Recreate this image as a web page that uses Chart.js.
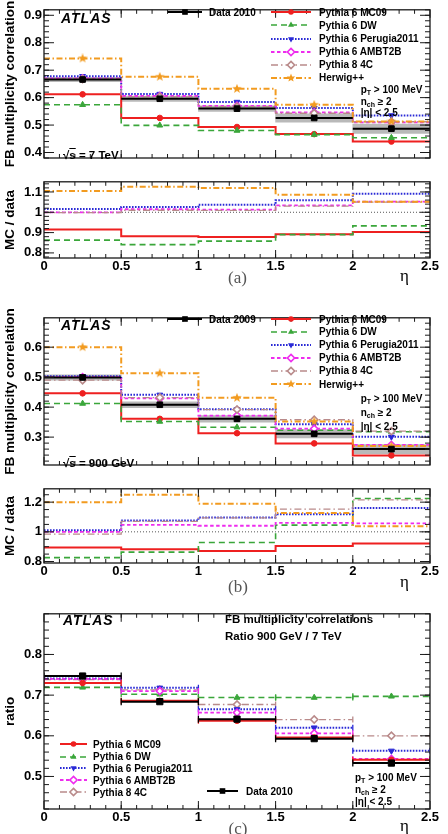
<!DOCTYPE html>
<html>
<head>
<meta charset="utf-8">
<script src="https://cdn.jsdelivr.net/npm/chart.js@4.4.1/dist/chart.umd.min.js"></script>
<style>
  body { margin: 0; background: #fff; }
  #page { position: relative; width: 448px; height: 834px; overflow: hidden; background: #fff;
          font-family: "Liberation Sans", Arial, Helvetica, sans-serif; }
  canvas { position: absolute; left: 0; }
  .t { position: absolute; white-space: nowrap; font-weight: bold; font-size: 10px; line-height: 12px;
       color: #000; transform: translateY(-50%); }
  .t sub { font-size: 7px; vertical-align: -2px; line-height: 0; }
  .atlas { font-size: 14px; font-style: italic; letter-spacing: 1px; }
  .big { font-size: 11.5px; }
  .cap { font-family: "Liberation Serif", "DejaVu Serif", serif; font-weight: normal; font-size: 17px; color: #555;
         transform: translate(-50%, -50%); }
  .eta { font-family: "Liberation Serif", "DejaVu Serif", serif; font-weight: normal; font-size: 17px; }
  .leg { position: absolute; display: flex; align-items: center; transform: translateY(-50%);
         font-weight: bold; font-size: 10px; white-space: nowrap; }
  .leg svg { display: block; overflow: visible; }
</style>
</head>
<body>
<div id="page">
  <canvas id="cA" width="448" height="177" style="top:0px"></canvas>
  <canvas id="cAr" width="448" height="104" style="top:172px"></canvas>
  <canvas id="cB" width="448" height="176" style="top:308px"></canvas>
  <canvas id="cBr" width="448" height="102" style="top:479px"></canvas>
  <canvas id="cC" width="448" height="223" style="top:604px"></canvas>
</div>
<script>
// eta bins
const etaEdges = [0, 0.5, 1, 1.5, 2, 2.5];
const etaCenters = [0.25, 0.75, 1.25, 1.75, 2.25];
const etaTicks = [0, 0.5, 1, 1.5, 2, 2.5];

// (a) sqrt(s) = 7 TeV
const data7 = [0.666, 0.596, 0.560, 0.526, 0.487];
const sys7 = [0.008, 0.010, 0.010, 0.015, 0.017];
const mc09_7 = [0.612, 0.526, 0.493, 0.467, 0.440];
const dw_7 = [0.574, 0.499, 0.480, 0.465, 0.454];
const perugia_7 = [0.678, 0.613, 0.584, 0.562, 0.535];
const ambt2b_7 = [0.670, 0.606, 0.570, 0.546, 0.510];
const py8_7 = [0.668, 0.603, 0.567, 0.543, 0.512];
const herwig_7 = [0.743, 0.676, 0.632, 0.574, 0.513];
// (a) MC / data
const rMc09_7 = [0.915, 0.882, 0.878, 0.892, 0.903];
const rDw_7 = [0.863, 0.841, 0.858, 0.890, 0.933];
const rPerugia_7 = [1.016, 1.026, 1.037, 1.059, 1.091];
const rAmbt2b_7 = [1.000, 1.015, 1.013, 1.034, 1.052];
const rPy8_7 = [0.998, 1.010, 1.009, 1.030, 1.050];
const rHerwig_7 = [1.105, 1.126, 1.119, 1.086, 1.052];

// (b) sqrt(s) = 900 GeV
const data9 = [0.499, 0.408, 0.361, 0.311, 0.260];
const sys9 = [0.009, 0.010, 0.011, 0.014, 0.015];
const mc09_9 = [0.446, 0.361, 0.313, 0.279, 0.239];
const dw_9 = [0.412, 0.352, 0.333, 0.323, 0.318];
const perugia_9 = [0.503, 0.441, 0.393, 0.343, 0.301];
const ambt2b_9 = [0.500, 0.429, 0.372, 0.328, 0.274];
const py8_9 = [0.490, 0.432, 0.392, 0.358, 0.320];
const herwig_9 = [0.600, 0.513, 0.431, 0.352, 0.270];
// (b) MC / data
const rMc09_9 = [0.894, 0.882, 0.871, 0.904, 0.922];
const rDw_9 = [0.826, 0.863, 0.928, 1.045, 1.225];
const rPerugia_9 = [1.010, 1.076, 1.096, 1.118, 1.160];
const rAmbt2b_9 = [1.000, 1.047, 1.041, 1.061, 1.057];
const rPy8_9 = [0.984, 1.070, 1.094, 1.153, 1.215];
const rHerwig_9 = [1.200, 1.250, 1.190, 1.127, 1.037];

// (c) ratio 900 GeV / 7 TeV
const cData = [0.747, 0.684, 0.641, 0.593, 0.533];
const cMc09 = [0.730, 0.686, 0.637, 0.596, 0.541];
const cDw = [0.719, 0.702, 0.694, 0.694, 0.697];
const cPerugia = [0.741, 0.718, 0.665, 0.620, 0.563];
const cAmbt2b = [0.740, 0.710, 0.657, 0.606, 0.543];
const cPy8 = [0.738, 0.713, 0.677, 0.640, 0.600];

const unity = 1;

// axis ticks
const yTicksA = [0.4, 0.5, 0.6, 0.7, 0.8, 0.9];
const yTicksAr = [0.8, 0.9, 1, 1.1];
const yTicksB = [0.3, 0.4, 0.5, 0.6];
const yTicksBr = [0.8, 1, 1.2];
const yTicksC = [0.5, 0.6, 0.7, 0.8];

Chart.defaults.font.family = '"Liberation Sans", Arial, Helvetica, sans-serif';
Chart.defaults.color = '#000';

function starCanvas(color, size) {
  const c = document.createElement('canvas');
  c.width = c.height = size;
  const g = c.getContext('2d');
  g.fillStyle = color;
  g.beginPath();
  for (let i = 0; i < 10; i++) {
    const rr = i % 2 ? size * 0.21 : size * 0.5;
    const ang = -Math.PI / 2 + i * Math.PI / 5;
    g.lineTo(size / 2 + rr * Math.cos(ang), size / 2 + rr * Math.sin(ang));
  }
  g.closePath();
  g.fill();
  return c;
}

const styles = {
  mc09:    {color: '#ee2020', dash: [], width: 2, shape: 'circle', r: 2.8},
  dw:      {color: '#3aa63a', dash: [6, 4], width: 1.6, shape: 'triUp', r: 3.4},
  perugia: {color: '#2a2ad6', dash: [1.6, 1.4], width: 2, shape: 'triDown', r: 3.4},
  ambt2b:  {color: '#ee2cee', dash: [3.5, 2.5], width: 1.8, shape: 'diamond', r: 3.6, open: true},
  py8:     {color: '#b98a8a', dash: [7, 3, 1.5, 3], width: 1.3, shape: 'diamond', r: 3.6, open: true},
  herwig:  {color: '#f29b20', dash: [6, 2.5, 1.5, 2.5], width: 2, shape: 'star', r: 4.5},
  data:    {color: '#000000', dash: [], width: 2, shape: 'square', r: 4}
};
const starImg = starCanvas(styles.herwig.color, 10);

function pointStyleOf(st) {
  return {circle: 'circle', triUp: 'triangle', triDown: 'triangle', diamond: 'rectRot',
          square: 'rect', star: starImg}[st.shape];
}

// histogram drawn as steps joined at bin edges
function stepLine(vals, st) {
  return {
    data: etaEdges.map((x, i) => ({x, y: vals[Math.min(i, vals.length - 1)]})),
    stepped: true, borderColor: st.color, borderWidth: st.width, borderDash: st.dash,
    pointRadius: 0, fill: false
  };
}

// separate horizontal segment per bin, optional end caps
function segLine(vals, st, capR) {
  const pts = [];
  vals.forEach((v, i) => {
    pts.push({x: etaEdges[i], y: v}, {x: etaEdges[i + 1], y: v}, {x: etaEdges[i + 1], y: null});
  });
  return {
    data: pts, borderColor: st.color, borderWidth: st.width, borderDash: st.dash, spanGaps: false,
    pointStyle: 'line', pointRotation: 90, pointRadius: capR || 0, pointBorderColor: st.color,
    pointBorderWidth: 1.3, fill: false
  };
}

function markers(vals, st, r) {
  return {
    data: etaCenters.map((x, i) => ({x, y: vals[i]})), showLine: false,
    pointStyle: pointStyleOf(st), pointRotation: st.shape === 'triDown' ? 180 : 0,
    pointRadius: r || st.r, pointBackgroundColor: st.open ? '#ffffff' : st.color,
    pointBorderColor: st.color, pointBorderWidth: st.open ? 1.6 : 1
  };
}

function band(vals, errs) {
  return {
    type: 'bar', data: etaCenters.map((x, i) => ({x, y: [vals[i] - errs[i], vals[i] + errs[i]]})),
    backgroundColor: '#b9b9b9', borderWidth: 0, barPercentage: 1, categoryPercentage: 1, grouped: false
  };
}

function unityLine() {
  return {
    data: [{x: etaEdges[0], y: unity}, {x: etaEdges[etaEdges.length - 1], y: unity}],
    borderColor: '#555', borderWidth: 1, borderDash: [1, 2], pointRadius: 0, fill: false
  };
}

// ROOT-like frame with inward major/minor ticks on all sides
const rootFrame = {
  id: 'rootFrame',
  afterDatasetsDraw(chart, args, opts) {
    const {ctx, chartArea: a} = chart;
    const x = chart.scales.x, y = chart.scales.y;
    ctx.save();
    ctx.strokeStyle = '#1a1a1a';
    ctx.lineWidth = 1;
    ctx.setLineDash([]);
    ctx.beginPath();
    const yt = (v, len) => {
      const p = y.getPixelForValue(v);
      ctx.moveTo(a.left, p); ctx.lineTo(a.left + len, p);
      ctx.moveTo(a.right, p); ctx.lineTo(a.right - len, p);
    };
    const xt = (v, len) => {
      const p = x.getPixelForValue(v);
      ctx.moveTo(p, a.bottom); ctx.lineTo(p, a.bottom - len);
      ctx.moveTo(p, a.top); ctx.lineTo(p, a.top + len);
    };
    const m = opts.yMinor;
    for (let k = Math.ceil(y.min / m - 1e-6); k * m <= y.max + 1e-9; k++) yt(k * m, 5);
    opts.yMajor.forEach(v => yt(v, 10));
    for (let k = 1; k < 25; k++) xt(k * 0.1, 4);
    etaTicks.forEach(v => xt(v, 8));
    ctx.stroke();
    ctx.lineWidth = 1.3;
    ctx.strokeRect(a.left, a.top, a.right - a.left, a.bottom - a.top);
    ctx.restore();
  }
};

function makeChart(id, cfg) {
  return new Chart(document.getElementById(id), {
    type: 'line',
    data: {datasets: cfg.datasets},
    options: {
      responsive: false,
      animation: false,
      events: [],
      layout: {padding: {top: cfg.padTop, bottom: cfg.padBottom, left: 0, right: 18}},
      plugins: {
        legend: {display: false},
        tooltip: {enabled: false},
        rootFrame: {yMinor: cfg.yMinor, yMajor: cfg.yTicks}
      },
      scales: {
        x: {
          type: 'linear', min: 0, max: 2.5, offset: false, display: cfg.showX,
          grid: {display: false, drawTicks: false}, border: {display: false},
          ticks: {font: {size: 13, weight: 'bold'}, color: '#000', padding: 1, maxRotation: 0,
                  callback: v => String(+v.toFixed(3))},
          afterBuildTicks: s => { s.ticks = etaTicks.map(v => ({value: v})); },
          afterFit: s => { s.height = 16; }
        },
        y: {
          type: 'linear', min: cfg.yMin, max: cfg.yMax,
          grid: {display: false, drawTicks: false}, border: {display: false},
          ticks: {font: {size: 13, weight: 'bold'}, color: '#000', padding: 2,
                  callback: v => String(+v.toFixed(3))},
          afterBuildTicks: s => { s.ticks = cfg.yTicks.map(v => ({value: v})); },
          afterFit: s => { s.width = 44; },
          title: {display: true, text: cfg.yTitle, color: '#000',
                  font: {size: 13.5, weight: 'bold'}, padding: {top: 2, bottom: 0}}
        }
      }
    },
    plugins: [rootFrame]
  });
}

function upperSets(d, s, mc) {
  const out = [markers(d, styles.data), segLine(d, styles.data, 0)];
  mc.forEach(([k, v]) => out.push(markers(v, styles[k])));
  mc.forEach(([k, v]) => out.push(stepLine(v, styles[k])));
  out.push(band(d, s));
  return out;
}

function ratioSets(mc) {
  const out = mc.map(([k, v]) => stepLine(v, styles[k]));
  out.push(unityLine());
  return out;
}

makeChart('cA', {
  padTop: 3, padBottom: 3, showX: false, yMin: 0.38, yMax: 0.92, yTicks: yTicksA, yMinor: 0.02,
  yTitle: 'FB multiplicity correlation',
  datasets: upperSets(data7, sys7, [['herwig', herwig_7], ['py8', py8_7], ['ambt2b', ambt2b_7],
                                    ['perugia', perugia_7], ['dw', dw_7], ['mc09', mc09_7]])
});
makeChart('cAr', {
  padTop: 2, padBottom: 2, showX: true, yMin: 0.775, yMax: 1.15, yTicks: yTicksAr, yMinor: 0.02,
  yTitle: 'MC / data',
  datasets: ratioSets([['herwig', rHerwig_7], ['py8', rPy8_7], ['ambt2b', rAmbt2b_7],
                       ['perugia', rPerugia_7], ['dw', rDw_7], ['mc09', rMc09_7]])
});
makeChart('cB', {
  padTop: 3, padBottom: 3, showX: false, yMin: 0.207, yMax: 0.698, yTicks: yTicksB, yMinor: 0.02,
  yTitle: 'FB multiplicity correlation',
  datasets: upperSets(data9, sys9, [['herwig', herwig_9], ['py8', py8_9], ['ambt2b', ambt2b_9],
                                    ['perugia', perugia_9], ['dw', dw_9], ['mc09', mc09_9]])
});
makeChart('cBr', {
  padTop: 2, padBottom: 2, showX: true, yMin: 0.79, yMax: 1.29, yTicks: yTicksBr, yMinor: 0.05,
  yTitle: 'MC / data',
  datasets: ratioSets([['herwig', rHerwig_9], ['py8', rPy8_9], ['ambt2b', rAmbt2b_9],
                       ['perugia', rPerugia_9], ['dw', rDw_9], ['mc09', rMc09_9]])
});

const cSeries = [['mc09', cMc09], ['ambt2b', cAmbt2b], ['perugia', cPerugia], ['dw', cDw], ['py8', cPy8]];
const cSets = [markers(cData, styles.data, 4.4), segLine(cData, styles.data, 3.5)];
cSeries.forEach(([k, v]) => cSets.push(markers(v, styles[k])));
cSeries.forEach(([k, v]) => cSets.push(segLine(v, styles[k], 3)));
makeChart('cC', {
  padTop: 2, padBottom: 2, showX: true, yMin: 0.42, yMax: 0.9, yTicks: yTicksC, yMinor: 0.02,
  yTitle: 'ratio', datasets: cSets
});

// ---- text overlays and legends ----
const page = document.getElementById('page');

function note(html, x, y, cls) {
  const d = document.createElement('div');
  d.className = 't ' + (cls || '');
  d.style.left = x + 'px';
  d.style.top = y + 'px';
  d.innerHTML = html;
  page.appendChild(d);
}

function markerSvg(st, cx, cy) {
  const c = st.color, r = st.r;
  const pts = a => a.map(p => (cx + p[0]).toFixed(1) + ',' + (cy + p[1]).toFixed(1)).join(' ');
  if (st.shape === 'circle') return `<circle cx="${cx}" cy="${cy}" r="${r}" fill="${c}"/>`;
  if (st.shape === 'square') return `<rect x="${cx - r * 0.7}" y="${cy - r * 0.7}" width="${r * 1.4}" height="${r * 1.4}" fill="${c}"/>`;
  if (st.shape === 'triUp') return `<polygon points="${pts([[0, -r], [r * 0.87, r * 0.5], [-r * 0.87, r * 0.5]])}" fill="${c}"/>`;
  if (st.shape === 'triDown') return `<polygon points="${pts([[0, r], [r * 0.87, -r * 0.5], [-r * 0.87, -r * 0.5]])}" fill="${c}"/>`;
  if (st.shape === 'diamond') return `<polygon points="${pts([[0, -r], [r, 0], [0, r], [-r, 0]])}" fill="#fff" stroke="${c}" stroke-width="1.6"/>`;
  const s = [];
  for (let i = 0; i < 10; i++) {
    const rr = i % 2 ? r * 0.42 : r;
    const ang = -Math.PI / 2 + i * Math.PI / 5;
    s.push([rr * Math.cos(ang), rr * Math.sin(ang)]);
  }
  return `<polygon points="${pts(s)}" fill="${c}"/>`;
}

function legendRow(key, text, x, y, len, gap) {
  const st = styles[key];
  const d = document.createElement('div');
  d.className = 'leg';
  d.style.left = x + 'px';
  d.style.top = y + 'px';
  const dash = st.dash.length ? st.dash.join(' ') : 'none';
  d.innerHTML = `<svg width="${len}" height="12"><line x1="0" y1="6" x2="${len}" y2="6" stroke="${st.color}" stroke-width="${st.width}" stroke-dasharray="${dash}"/>${markerSvg(st, len / 2, 6)}</svg><span style="margin-left:${gap}px">${text}</span>`;
  page.appendChild(d);
}

const mcNames = [['mc09', 'Pythia 6 MC09'], ['dw', 'Pythia 6 DW'], ['perugia', 'Pythia 6 Perugia2011'],
                 ['ambt2b', 'Pythia 6 AMBT2B'], ['py8', 'Pythia 8 4C'], ['herwig', 'Herwig++']];
const cuts = ['p<sub>T</sub> &gt; 100 MeV', 'n<sub>ch</sub> &ge; 2', '|&eta;| &lt; 2.5'];

// (a)
note('ATLAS', 61, 18, 'atlas');
legendRow('data', 'Data 2010', 168, 12.3, 34, 7);
[12.3, 25.3, 38.5, 51.5, 64.5, 77.5].forEach((y, i) => legendRow(mcNames[i][0], mcNames[i][1], 271, y, 40, 8));
[90, 101.7, 113.3].forEach((y, i) => note(cuts[i], 360.7, y));
note('&radic;<span style="text-decoration:overline">s</span> = 7 TeV', 63, 155, 'big');
note('&eta;', 400, 276, 'eta');
note('(a)', 237.5, 278, 'cap');

// (b)
note('ATLAS', 61, 325, 'atlas');
legendRow('data', 'Data 2009', 168, 319, 34, 7);
[319, 331.8, 344.8, 357.7, 370.7, 384].forEach((y, i) => legendRow(mcNames[i][0], mcNames[i][1], 271, y, 40, 8));
[399.3, 413.3, 427.3].forEach((y, i) => note(cuts[i], 360.7, y));
note('&radic;<span style="text-decoration:overline">s</span> = 900 GeV', 63, 462.7, 'big');
note('&eta;', 400, 582, 'eta');
note('(b)', 238, 587, 'cap');

// (c)
note('ATLAS', 63, 620, 'atlas');
note('FB multiplicity correlations', 225, 619, 'big');
note('Ratio 900 GeV / 7 TeV', 225, 635.7, 'big');
[744, 756.5, 768.3, 780, 792.3].forEach((y, i) => legendRow(mcNames[i][0], mcNames[i][1], 60, y, 27, 6));
legendRow('data', 'Data 2010', 207, 791, 31, 8);
[778.3, 789.8, 801.7].forEach((y, i) => note(cuts[i], 355, y));
note('&eta;', 400, 826, 'eta');
note('(c)', 238, 829, 'cap');
</script>
</body>
</html>
